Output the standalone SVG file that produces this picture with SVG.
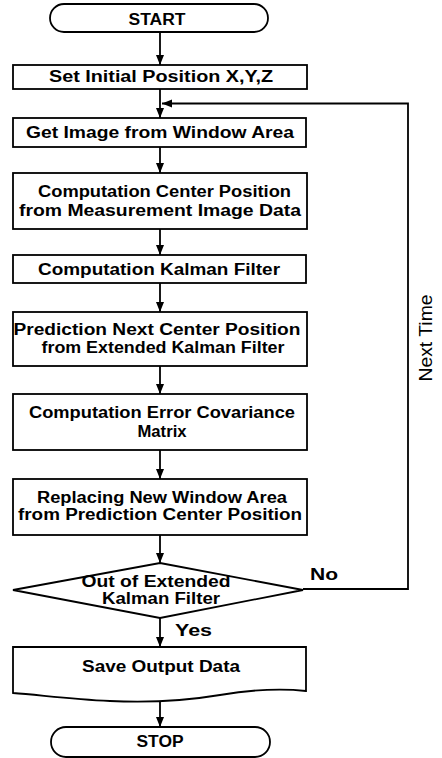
<svg xmlns="http://www.w3.org/2000/svg" width="442" height="758" viewBox="0 0 442 758">
<defs>
<style>
.shape{fill:#fff;stroke:#000;stroke-width:1.8}
.t{font-family:"Liberation Sans",Arial,sans-serif;font-size:16px;font-weight:bold;fill:#000;text-anchor:middle}
.lbl{font-family:"Liberation Sans",Arial,sans-serif;font-size:16px;font-weight:bold;fill:#000}
.side{font-family:"Liberation Sans",Arial,sans-serif;font-size:18px;fill:#000;text-anchor:middle}
.c{fill:none;stroke:#000;stroke-width:1.8}
</style>
<marker id="arr" markerUnits="userSpaceOnUse" markerWidth="10" markerHeight="10" viewBox="0 0 10 10" refX="10" refY="5" orient="auto">
<path d="M0,1 L10,5 L0,9 Z" fill="#000"/>
</marker>
</defs>
<rect width="442" height="758" fill="#fff"/>
<g id="connectors">
<line class="c" x1="160" y1="32" x2="160" y2="65" marker-end="url(#arr)"/>
<line class="c" x1="160" y1="89" x2="160" y2="118" marker-end="url(#arr)"/>
<line class="c" x1="160" y1="147" x2="160" y2="173" marker-end="url(#arr)"/>
<line class="c" x1="160" y1="229" x2="160" y2="255" marker-end="url(#arr)"/>
<line class="c" x1="160" y1="283" x2="160" y2="312" marker-end="url(#arr)"/>
<line class="c" x1="160" y1="366" x2="160" y2="394" marker-end="url(#arr)"/>
<line class="c" x1="160" y1="450" x2="160" y2="479" marker-end="url(#arr)"/>
<line class="c" x1="160" y1="535" x2="160" y2="563" marker-end="url(#arr)"/>
<line class="c" x1="160" y1="618" x2="160" y2="647" marker-end="url(#arr)"/>
<line class="c" x1="160" y1="700" x2="160" y2="727" marker-end="url(#arr)"/>
<path class="c" d="M303,589 H408 V103.5 H162" marker-end="url(#arr)"/>
<text class="lbl" x="310" y="580" textLength="28" lengthAdjust="spacingAndGlyphs">No</text>
<text class="lbl" x="175" y="636" textLength="37" lengthAdjust="spacingAndGlyphs">Yes</text>
<text class="side" x="432" y="338" transform="rotate(-90 432 338)" textLength="87" lengthAdjust="spacingAndGlyphs">Next Time</text>
</g>
<g id="start">
<rect class="shape" x="50" y="4" width="218" height="28" rx="14"/>
<text class="t" x="157" y="25" textLength="57" lengthAdjust="spacingAndGlyphs">START</text>
</g>
<g id="set-initial">
<rect class="shape" x="13" y="65" width="294" height="24"/>
<text class="t" x="161" y="82" textLength="224" lengthAdjust="spacingAndGlyphs">Set Initial Position X,Y,Z</text>
</g>
<g id="get-image">
<rect class="shape" x="13" y="118" width="293" height="29"/>
<text class="t" x="160" y="138" textLength="268" lengthAdjust="spacingAndGlyphs">Get Image from Window Area</text>
</g>
<g id="computation-center">
<rect class="shape" x="13" y="173" width="294" height="56"/>
<text class="t" x="164.5" y="197" textLength="253" lengthAdjust="spacingAndGlyphs">Computation Center Position</text>
<text class="t" x="160" y="216" textLength="282" lengthAdjust="spacingAndGlyphs">from Measurement Image Data</text>
</g>
<g id="computation-kalman">
<rect class="shape" x="13" y="255" width="293" height="28"/>
<text class="t" x="159" y="275" textLength="242" lengthAdjust="spacingAndGlyphs">Computation Kalman Filter</text>
</g>
<g id="prediction">
<rect class="shape" x="13" y="312" width="294" height="54"/>
<text class="t" x="157" y="335" textLength="287" lengthAdjust="spacingAndGlyphs">Prediction Next Center Position</text>
<text class="t" x="163" y="353" textLength="243" lengthAdjust="spacingAndGlyphs">from Extended Kalman Filter</text>
</g>
<g id="error-covariance">
<rect class="shape" x="13" y="394" width="294" height="56"/>
<text class="t" x="162" y="418" textLength="266" lengthAdjust="spacingAndGlyphs">Computation Error Covariance</text>
<text class="t" x="162" y="437" textLength="49" lengthAdjust="spacingAndGlyphs">Matrix</text>
</g>
<g id="replacing">
<rect class="shape" x="13" y="479" width="294" height="56"/>
<text class="t" x="162" y="503" textLength="250" lengthAdjust="spacingAndGlyphs">Replacing New Window Area</text>
<text class="t" x="160" y="520" textLength="284" lengthAdjust="spacingAndGlyphs">from Prediction Center Position</text>
</g>
<g id="decision">
<polygon class="shape" points="160,563 303,590 160,618 13,590"/>
<text class="t" x="156" y="587" textLength="149" lengthAdjust="spacingAndGlyphs">Out of Extended</text>
<text class="t" x="161" y="604" textLength="118" lengthAdjust="spacingAndGlyphs">Kalman Filter</text>
</g>
<g id="save-output">
<path class="shape" d="M13,647 H306 V691 C280,688 250,690 220,695 C190,700 150,703 110,701 C70,699 40,695 13,693 Z"/>
<text class="t" x="161" y="672" textLength="158" lengthAdjust="spacingAndGlyphs">Save Output Data</text>
</g>
<g id="stop">
<rect class="shape" x="51" y="727" width="219" height="30" rx="15"/>
<text class="t" x="160" y="747" textLength="47" lengthAdjust="spacingAndGlyphs">STOP</text>
</g>
</svg>
